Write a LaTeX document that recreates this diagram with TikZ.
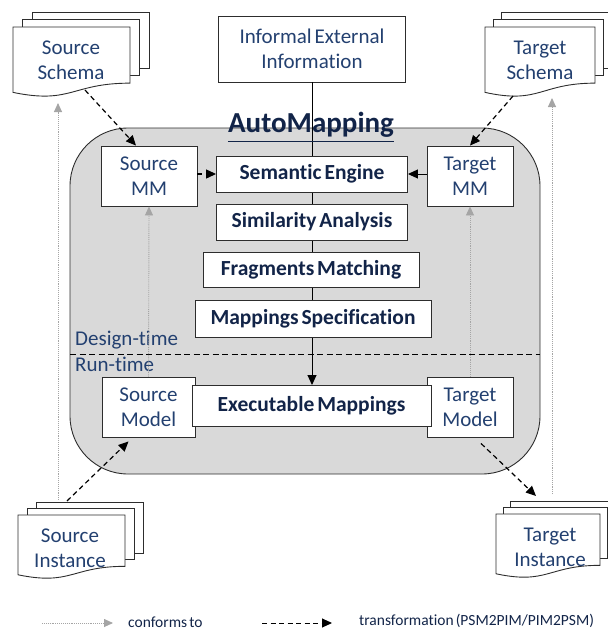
\documentclass[tikz,border=0pt]{standalone}
\usepackage{fontspec}
\setmainfont{Carlito}[Ligatures=NoCommon,WordSpace=0.6]
\usetikzlibrary{arrows.meta,calc}

\definecolor{txtblue}{RGB}{35,64,112}
\definecolor{boldblue}{RGB}{18,36,72}
\definecolor{panelgray}{RGB}{217,217,217}
\definecolor{edge}{RGB}{45,45,45}
\definecolor{conformgray}{RGB}{165,165,165}

% stack of three pages; front page has the wavy "document" bottom
% #1,#2 = front top-left, #3 = width, #4 = height, #5,#6 = page offset
\newcommand{\docstack}[6]{%
  \foreach \k in {2,1}{%
    \filldraw[docpage] ({#1+\k*#5},{#2-\k*#6}) rectangle ({#1+\k*#5+#3},{#2-\k*#6+0.802*#4});
  }
  \filldraw[docpage] (#1,#2) -- ({#1+#3},#2) -- ({#1+#3},{#2+0.802*#4})
    .. controls ({#1+0.5*#3},{#2+0.802*#4}) and ({#1+0.5*#3},{#2+1.107*#4}) .. ({#1},{#2+0.934*#4}) -- cycle;
}

\begin{document}
\begin{tikzpicture}[x=1pt,y=-1pt,
  docpage/.style={draw=edge,fill=white,line width=0.9pt},
  plainbox/.style={draw=edge,fill=white,line width=0.9pt,inner sep=0pt,align=center,
    font=\fontsize{21}{25}\selectfont,text=txtblue},
  stagebox/.style={draw=edge,fill=white,line width=0.9pt,inner sep=0pt,align=center,
    font=\fontsize{21.5}{24}\selectfont\bfseries,text=boldblue},
  doclabel/.style={align=center,inner sep=0pt,font=\fontsize{21}{25}\selectfont,text=txtblue},
  phase/.style={anchor=west,inner sep=0pt,font=\fontsize{21}{24}\selectfont,text=txtblue},
  legendtext/.style={anchor=west,inner sep=0pt,font=\fontsize{15.5}{18}\selectfont,text=boldblue},
  conforms/.style={draw=conformgray,densely dotted,line width=0.9pt,
    -{Triangle[length=9pt,width=8pt,fill=conformgray,color=conformgray]}},
  transform/.style={draw=black,dash pattern=on 5pt off 3.5pt,line width=1.2pt,
    -{Triangle[length=10pt,width=9pt]}},
  flow/.style={draw=black,line width=1pt,-{Triangle[length=10pt,width=9pt]}}
]
\useasboundingbox (0,0) rectangle (608,630);
\clip (0,0) rectangle (608,630);

% shared panel
\filldraw[fill=panelgray,draw=edge,line width=0.9pt,rounded corners=58pt]
  (70,128) rectangle (540,474);

% external documents
\docstack{13}{27}{117}{70}{9.5}{7.5}
\node[doclabel] (ss) at (71,60) {Source\\Schema};
\docstack{485}{27}{110}{70}{8}{7.5}
\node[doclabel] (ts) at (540,60) {Target\\Schema};
\docstack{18}{515}{107}{64}{9}{6.5}
\node[doclabel] (si) at (70,548) {Source\\Instance};
\docstack{496}{514}{104}{64}{7}{6.5}
\node[doclabel] (ti) at (550,547) {Target\\Instance};

% connector end points on the documents
\coordinate (ssOut) at (85,90);
\coordinate (ssIn) at (58,103);
\coordinate (tsOut) at (513,96);
\coordinate (tsIn) at (552,98);
\coordinate (siOut) at (67,501);
\coordinate (siUp) at (58,500);
\coordinate (tiIn) at (536,496);
\coordinate (tiUp) at (552,494);

% boxes
\node[plainbox,minimum width=187pt,minimum height=66pt] (info) at (312,49)
  {Informal External\\Information};
\node[plainbox,minimum width=96pt,minimum height=60pt] (smm) at (149,176) {Source\\MM};
\node[plainbox,minimum width=86pt,minimum height=60pt] (tmm) at (470,176) {Target\\MM};

% main flow line behind the stages
\draw[flow] (info.south) -- (312,385);

\node[stagebox,minimum width=191pt,minimum height=36pt] (sem) at (312,174) {Semantic Engine};
\node[stagebox,minimum width=191pt,minimum height=36pt] (sim) at (312,222) {Similarity Analysis};
\node[stagebox,minimum width=216pt,minimum height=35pt] (frag) at (311,269.5) {Fragments Matching};
\node[stagebox,minimum width=236pt,minimum height=37pt] (spec) at (313,318.5) {Mappings Specification};

\node[plainbox,minimum width=93pt,minimum height=60pt] (smod) at (148.5,407) {Source\\Model};
\node[plainbox,minimum width=86pt,minimum height=60pt] (tmod) at (470,407) {Target\\Model};
\node[stagebox,minimum width=239pt,minimum height=41pt] (exec) at (311.5,405.5) {Executable Mappings};

% title
\node[inner sep=0pt,font=\fontsize{29}{32}\selectfont\bfseries,text=boldblue] (am) at (311,125) {AutoMapping};
\draw[boldblue,line width=1.4pt] ([yshift=-8.5pt]am.base west) -- ([yshift=-8.5pt]am.base east);

% design-time / run-time split
\draw[black,dash pattern=on 6pt off 3.5pt,line width=0.9pt] (70,354) -- (540,354);
\node[phase] (dt) at (75,340) {Design-time};
\node[phase] (rt) at (75,364) {Run-time};

% conforms-to links
\draw[conforms] (siUp) -- (ssIn);
\draw[conforms] (tiUp) -- (tsIn);
\draw[conforms] (smod.north) -- (smm.south);
\draw[conforms] (tmod.north) -- (tmm.south);

% transformations
\draw[transform] (ssOut) -- ([xshift=-13pt]smm.north);
\draw[transform] (tsOut) -- (tmm.north);
\draw[transform] (smm.east |- sem.west) -- (sem.west);
\draw[flow] (tmm.west |- sem.east) -- (sem.east);
\draw[transform] (siOut) -- ([xshift=-20pt,yshift=-4pt]smod.south);
\draw[transform] ([xshift=11pt,yshift=-6pt]tmod.south) -- (tiIn);

% legend
\coordinate (l1a) at (42,623);
\coordinate (l1b) at (113,623);
\coordinate (l2a) at (262,623);
\coordinate (l2b) at (332,623);
\draw[conforms] (l1a) -- (l1b);
\node[legendtext] (lc) at (128,622) {conforms to};
\draw[transform,line width=1pt] (l2a) -- (l2b);
\node[legendtext] (lt) at (359,621) {transformation (PSM2PIM/PIM2PSM)};
\end{tikzpicture}
\end{document}
